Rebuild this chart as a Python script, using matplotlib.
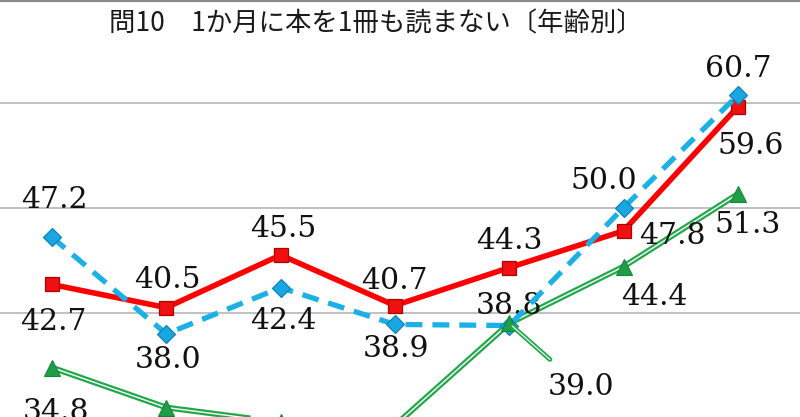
import matplotlib
matplotlib.use("Agg")
import matplotlib.pyplot as plt
import matplotlib.patheffects as pe
from matplotlib.lines import Line2D

# age groups (axis labels are cropped out of the picture)
ages = ["16～19歳", "20代", "30代", "40代", "50代", "60代", "70歳以上"]

# share of people who read no book in a month (%)
series_red = [42.7, 40.5, 45.5, 40.7, 44.3, 47.8, 59.6]
series_blue = [47.2, 38.0, 42.4, 38.9, 38.8, 50.0, 60.7]
series_green = [34.8, 31.0, 29.6, 29.3, 39.0, 44.4, 51.3]

# label offsets (points) from the marker
red_offsets = [(1, -27), (1, 20), (2, 19), (0, 18), (0, 19), (35, -4), (9, -28)]
blue_offsets = [(2, 27), (1, -19), (2, -24), (1, -18), (0, 14), (-14, 19), (0, 19)]
green_labels = {0: (3, -32), 5: (22, -22), 6: (7, -22)}

title = "問10　1か月に本を1冊も読まない〔年齢別〕"

RED = "#FF0000"
BLUE = "#1BB0E6"
GREEN = "#22A84A"
LABEL_FONT = dict(family="DejaVu Serif", fontsize=21.5, color="#111111")

fig = plt.figure(figsize=(8, 4.17), dpi=100)
ax = fig.add_axes([0, 0, 1, 1])
x = list(range(len(ages)))

ax.set_xlim(-0.455, 6.544)
ax.set_ylim(30.1, 69.75)
for spine in ax.spines.values():
    spine.set_visible(False)
ax.set_xticks([])
ax.set_yticks([40, 50, 60])
ax.tick_params(left=False, labelleft=False)
ax.grid(axis="y", color="#C0C0C0", linewidth=1.4)
ax.set_axisbelow(True)

# green: double line
ax.plot(x, series_green, color="white", linewidth=1.0, zorder=2,
        path_effects=[pe.Stroke(linewidth=4.2, foreground=GREEN), pe.Normal()])
ax.plot(x, series_green, linestyle="none", marker="^", markersize=12,
        markerfacecolor="#1E9E46", markeredgecolor="#17853A", markeredgewidth=0.8, zorder=5)

# red: solid
ax.plot(x, series_red, color=RED, linewidth=4.0, zorder=3,
        marker="s", markersize=10.5, markerfacecolor="#F01010",
        markeredgecolor="#B00000", markeredgewidth=0.9)

# blue: dashed
ax.plot(x, series_blue, color=BLUE, linewidth=3.8, dashes=(3.2, 1.9), zorder=4,
        marker="D", markersize=9.5, markerfacecolor="#1AA6E0",
        markeredgecolor="#0F84B8", markeredgewidth=0.9)

for i, v in enumerate(series_red):
    ax.annotate(f"{v:.1f}", (i, v), xytext=red_offsets[i], textcoords="offset points",
                ha="center", va="center", **LABEL_FONT)
for i, v in enumerate(series_blue):
    ax.annotate(f"{v:.1f}", (i, v), xytext=blue_offsets[i], textcoords="offset points",
                ha="center", va="center", **LABEL_FONT)
for i, off in green_labels.items():
    ax.annotate(f"{series_green[i]:.1f}", (i, series_green[i]), xytext=off,
                textcoords="offset points", ha="center", va="center", **LABEL_FONT)

# label with a leader line at the 50s point
ax.annotate(f"{series_green[4]:.1f}", (4, series_green[4]), xytext=(52, -46),
            textcoords="offset points", ha="center", va="center", zorder=6,
            arrowprops=dict(arrowstyle="-", color="white", linewidth=0.8,
                            shrinkA=12, shrinkB=3,
                            path_effects=[pe.Stroke(linewidth=3.4, foreground=GREEN), pe.Normal()]),
            **LABEL_FONT)

fig.text(376 / 800, 1 - 24 / 417, title, ha="center", va="center", fontsize=19,
         family=["Noto Sans CJK JP", "DejaVu Sans"], color="#1A1A1A")

# top edge of the chart frame
fig.add_artist(Line2D([0, 1], [0.997, 0.997], transform=fig.transFigure,
                      color="#8A8A8A", linewidth=1.6))

fig.savefig("out.png", dpi=100)
